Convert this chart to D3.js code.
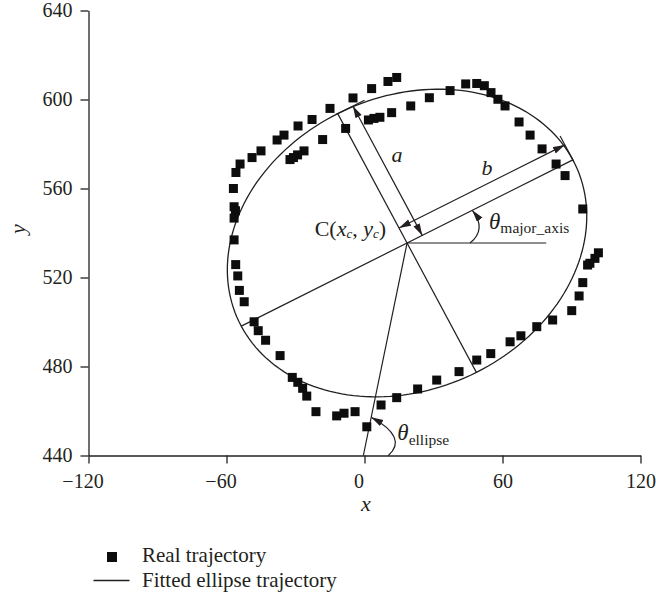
<!DOCTYPE html>
<html>
<head>
<meta charset="utf-8">
<script src="https://cdn.jsdelivr.net/npm/d3@7"></script>
<style>
body { margin: 0; background: #fff; }
text { font-family: "Liberation Serif", "DejaVu Serif", serif; fill: #231f20; }
</style>
</head>
<body>
<svg id="chart" width="656" height="598"></svg>
<script>
// real trajectory samples (x, y)
const trajX = [1.0, 7.2, 14.0, 23.1, 31.4, 41.1, 48.8, 54.9, 63.3, 68.0, 74.9, 81.8, 90.1, 93.3, 94.9,
	97.0, 98.0, 100.2, 101.7, 94.9, 87.2, 83.3, 77.2, 72.0, 67.2, 61.1, 58.0, 55.0, 52.1, 48.8,
	44.0, 37.2, 28.2, 20.1, 11.8, 6.7, 4.1, 1.7, -8.2, -18.2, -26.3, -29.1, -30.9, -32.4,
	14.0, 10.2, 3.1, -5.0, -15.0, -22.8, -28.9, -35.0, -38.0, -45.0, -48.9, -54.1, -55.9, -57.0,
	-56.7, -56.1, -56.7, -56.7, -56.0, -55.1, -54.4, -52.3, -48.0, -46.2, -43.0, -36.7, -31.4,
	-29.0, -26.9, -25.1, -21.1, -12.1, -8.9, -4.1];
const trajY = [452.9, 462.7, 466.0, 469.9, 473.9, 477.7, 482.9, 485.8, 491.1, 493.8, 497.9, 500.9, 505.1, 511.7, 517.7,
	525.6, 526.4, 528.6, 531.1, 550.8, 565.8, 571.0, 577.8, 584.0, 589.9, 597.1, 600.1, 603.1, 606.2, 607.2,
	607.0, 604.0, 600.8, 597.1, 594.1, 592.0, 591.5, 590.8, 587.0, 582.0, 576.9, 575.1, 573.9, 573.0,
	609.9, 608.1, 604.9, 600.7, 596.0, 591.0, 588.1, 584.0, 581.8, 576.9, 573.9, 571.0, 567.2, 560.0,
	551.8, 550.0, 546.7, 536.9, 525.8, 520.7, 514.2, 509.1, 500.1, 496.1, 491.8, 484.9, 475.1,
	472.9, 470.2, 466.7, 459.7, 457.8, 459.0, 459.7];

// fitted ellipse
const ellipseCenter = [18.5, 535.5];
const semiMajor = 81.2, semiMinor = 65.5, majorAngleDeg = 27.4;
const ellipseStart = [-0.5, 440];
const refLineEndX = 79;

const xTicks = [-120, -60, 0, 60, 120];
const yTicks = [440, 480, 520, 560, 600, 640];
const legendLabels = ['Real trajectory', 'Fitted ellipse trajectory'];

const ink = '#231f20';
const svg = d3.select('#chart');

const x = d3.scaleLinear().domain([-120, 120]).range([88.5, 640.5]);
const y = d3.scaleLinear().domain([440, 640]).range([455.5, 10.5]);

// arrowhead
svg.append('defs').append('marker')
	.attr('id', 'arrow')
	.attr('markerUnits', 'userSpaceOnUse')
	.attr('markerWidth', 13).attr('markerHeight', 8)
	.attr('refX', 12).attr('refY', 3.5)
	.attr('orient', 'auto-start-reverse')
	.append('path')
	.attr('d', 'M0,0 L12,3.5 L0,7 Z')
	.attr('fill', ink);

// ellipse path from its parameters
const th = majorAngleDeg * Math.PI / 180;
const ellPts = d3.range(0, 361, 2).map(deg => {
	const t = deg * Math.PI / 180;
	const ex = semiMajor * Math.cos(t), ey = semiMinor * Math.sin(t);
	return [ellipseCenter[0] + ex * Math.cos(th) - ey * Math.sin(th),
		ellipseCenter[1] + ex * Math.sin(th) + ey * Math.cos(th)];
});
svg.append('path')
	.attr('d', d3.line().x(d => x(d[0])).y(d => y(d[1]))(ellPts))
	.attr('fill', 'none').attr('stroke', ink).attr('stroke-width', 1.3);

// geometry in pixels
const P = d => [x(d[0]), y(d[1])];
const C = P(ellipseCenter);
const majR = P([ellipseCenter[0] + semiMajor * Math.cos(th), ellipseCenter[1] + semiMajor * Math.sin(th)]);
const majL = P([ellipseCenter[0] - semiMajor * Math.cos(th), ellipseCenter[1] - semiMajor * Math.sin(th)]);
const minT = P([ellipseCenter[0] - semiMinor * Math.sin(th), ellipseCenter[1] + semiMinor * Math.cos(th)]);
const minB = P([ellipseCenter[0] + semiMinor * Math.sin(th), ellipseCenter[1] - semiMinor * Math.cos(th)]);
const E0 = P(ellipseStart);
const unit = (a, b) => { const dx = b[0] - a[0], dy = b[1] - a[1], l = Math.hypot(dx, dy); return [dx / l, dy / l]; };
const add = (p, v, k) => [p[0] + v[0] * k, p[1] + v[1] * k];
const u = unit(C, majR), v = unit(C, minT), w = unit(E0, C);

const g = svg.append('g').attr('stroke', ink).attr('stroke-width', 1.2).attr('fill', 'none');
const seg = (a, b) => g.append('line').attr('x1', a[0]).attr('y1', a[1]).attr('x2', b[0]).attr('y2', b[1]);

seg(majL, majR);
seg(minT, minB);
seg(C, [x(refLineEndX), C[1]]);
seg(E0, C);
// dimension b
seg(add(majR, v, -2), add(majR, v, 27));
seg(add(C, v, 17), add(majR, v, 17)).attr('marker-start', 'url(#arrow)').attr('marker-end', 'url(#arrow)');
// dimension a
seg(add(minT, u, -2), add(minT, u, 30));
seg(add(C, u, 17), add(minT, u, 17)).attr('marker-start', 'url(#arrow)').attr('marker-end', 'url(#arrow)');

// angle arcs
const arcM0 = [C[0] + 63, C[1]], arcM1 = add(C, u, 73), arcMc = [C[0] + 80, C[1] - 14];
g.append('path').attr('d', `M${arcM0}Q${arcMc} ${arcM1}`).attr('marker-end', 'url(#arrow)');
const arcE0 = [E0[0] + 25, E0[1]], arcE1 = add(E0, w, 39), arcEc = [E0[0] + 45, E0[1] - 18];
g.append('path').attr('d', `M${arcE0}Q${arcEc} ${arcE1}`).attr('marker-end', 'url(#arrow)');

// trajectory points
svg.append('g').selectAll('rect')
	.data(d3.range(trajX.length))
	.join('rect')
	.attr('x', i => x(trajX[i]) - 4.5)
	.attr('y', i => y(trajY[i]) - 4.5)
	.attr('width', 9).attr('height', 9)
	.attr('fill', '#0d0d0d');

// axes
const xAxis = svg.append('g')
	.attr('transform', `translate(0,${y(440)})`)
	.call(d3.axisBottom(x).tickValues(xTicks).tickSize(8).tickSizeOuter(0).tickPadding(10));
xAxis.selectAll('text').attr('dx', d => d <= 0 ? -6 : 0);
const yAxis = svg.append('g')
	.attr('transform', `translate(${x(-120)},0)`)
	.call(d3.axisLeft(y).tickValues(yTicks).tickSize(8).tickSizeOuter(0).tickPadding(8));
[xAxis, yAxis].forEach(a => {
	a.selectAll('path, line').attr('stroke', ink).attr('stroke-width', 1.3);
	a.selectAll('text').attr('font-size', 20).attr('font-family', '"Liberation Serif", serif').attr('fill', ink);
});

svg.append('text').attr('x', 366).attr('y', 511).attr('text-anchor', 'middle')
	.attr('font-size', 22).attr('font-style', 'italic').text('x');
svg.append('text').attr('transform', 'translate(25,229) rotate(-90)').attr('text-anchor', 'middle')
	.attr('font-size', 22).attr('font-style', 'italic').text('y');

// annotation labels
svg.append('text').attr('x', C[0] - 10).attr('y', C[1] - 81).attr('text-anchor', 'middle')
	.attr('font-size', 22).attr('font-style', 'italic').text('a');
svg.append('text').attr('x', C[0] + 80).attr('y', C[1] - 68).attr('text-anchor', 'middle')
	.attr('font-size', 22).attr('font-style', 'italic').text('b');

const cl = svg.append('text').attr('x', C[0] - 21).attr('y', C[1] - 7).attr('text-anchor', 'end').attr('font-size', 22);
cl.append('tspan').text('C(');
cl.append('tspan').attr('font-style', 'italic').text('x');
cl.append('tspan').attr('font-style', 'italic').attr('font-size', 13).attr('dy', 2).text('c');
cl.append('tspan').attr('dy', -2).text(', ');
cl.append('tspan').attr('font-style', 'italic').text('y');
cl.append('tspan').attr('font-style', 'italic').attr('font-size', 13).attr('dy', 2).text('c');
cl.append('tspan').attr('dy', -2).text(')');

const tm = svg.append('text').attr('x', C[0] + 82).attr('y', C[1] - 14).attr('font-size', 23);
tm.append('tspan').attr('font-style', 'italic').text('θ');
tm.append('tspan').attr('font-size', 15.5).attr('dy', 4).text('major_axis');

const te = svg.append('text').attr('x', E0[0] + 34).attr('y', E0[1] - 15.5).attr('font-size', 23);
te.append('tspan').attr('font-style', 'italic').text('θ');
te.append('tspan').attr('font-size', 15.5).attr('dy', 5).text('ellipse');

// legend
const lg = svg.append('g');
lg.append('rect').attr('x', 107).attr('y', 552).attr('width', 10).attr('height', 10).attr('fill', '#0d0d0d');
lg.append('line').attr('x1', 93.5).attr('x2', 129.5).attr('y1', 580.5).attr('y2', 580.5)
	.attr('stroke', ink).attr('stroke-width', 1.3);
lg.selectAll('text').data(legendLabels).join('text')
	.attr('x', 142).attr('y', (d, i) => 562 + i * 25)
	.attr('font-size', 21).text(d => d);
</script>
</body>
</html>
